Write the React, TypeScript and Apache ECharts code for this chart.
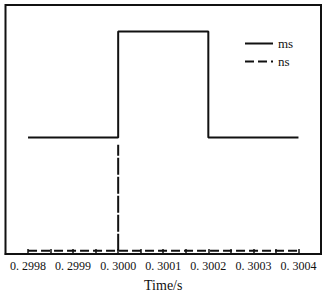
import React, { useEffect, useRef } from "react";
import * as echarts from "echarts";

const msTime = [0.2998, 0.3, 0.3, 0.3002, 0.3002, 0.3004];
const msValue = [1, 1, 2, 2, 1, 1];
const nsTime = [0.2998, 0.3004];
const nsValue = [-0.07, -0.07];
const nsSpikeTime = [0.3, 0.3];
const nsSpikeValue = [-0.07, 0.93];
const xTickValues = [0.2998, 0.2999, 0.3, 0.3001, 0.3002, 0.3003, 0.3004];
const xTickLabels = ["0. 2998", "0. 2999", "0. 3000", "0. 3001", "0. 3002", "0. 3003", "0. 3004"];

const FONT = "'Liberation Serif', 'Times New Roman', serif";
const INK = "#111";

export default function App() {
  const ref = useRef<HTMLDivElement>(null);
  useEffect(() => {
    if (!ref.current) return;
    const chart = echarts.init(ref.current, undefined, { renderer: "svg" });
    const zip = (xs: number[], ys: number[]) => xs.map((x, i) => [x, ys[i]]);
    chart.setOption({
      animation: false,
      backgroundColor: "#fff",
      grid: {
        left: 5.5,
        top: 5,
        right: 5,
        bottom: 39.5,
        show: true,
        borderColor: INK,
        borderWidth: 2,
      },
      legend: {
        left: 239,
        top: 32,
        orient: "vertical",
        itemWidth: 28,
        itemHeight: 10,
        itemGap: 5,
        data: ["ms", "ns"],
        itemStyle: { opacity: 0 },
        textStyle: { fontFamily: FONT, fontSize: 13, color: INK },
      },
      xAxis: {
        type: "value",
        min: 0.29975,
        max: 0.30045,
        interval: 0.00005,
        axisLine: { show: true, onZero: false, lineStyle: { color: INK, width: 2 } },
        axisTick: { show: true, inside: true, length: 5, lineStyle: { color: INK, width: 1.5 } },
        splitLine: { show: false },
        axisLabel: {
          showMinLabel: false,
          showMaxLabel: false,
          margin: 6,
          fontFamily: FONT,
          fontSize: 12,
          color: INK,
          formatter: (v: number) => {
            const i = xTickValues.findIndex((t) => Math.abs(t - v) < 1e-9);
            return i >= 0 ? xTickLabels[i] : "";
          },
        },
        name: "Time/s",
        nameLocation: "middle",
        nameGap: 24,
        nameTextStyle: { fontFamily: FONT, fontSize: 14, color: INK },
      },
      yAxis: {
        type: "value",
        min: -0.1,
        max: 2.25,
        show: false,
        splitLine: { show: false },
      },
      series: [
        {
          name: "ms",
          type: "line",
          data: zip(msTime, msValue),
          symbol: "none",
          lineStyle: { color: INK, width: 2 },
          itemStyle: { color: INK },
        },
        {
          name: "ns",
          type: "line",
          data: zip(nsTime, nsValue),
          symbol: "none",
          lineStyle: { color: INK, width: 2, type: [9, 4] },
          itemStyle: { color: INK },
        },
        {
          name: "ns",
          type: "line",
          data: zip(nsSpikeTime, nsSpikeValue),
          symbol: "none",
          lineStyle: { color: INK, width: 2, type: [17, 2] },
          itemStyle: { color: INK },
        },
      ],
    });
    return () => chart.dispose();
  }, []);
  return (
    <div
      ref={ref}
      style={{ position: "fixed", left: 0, top: 0, width: 326, height: 297, background: "#fff" }}
    />
  );
}
